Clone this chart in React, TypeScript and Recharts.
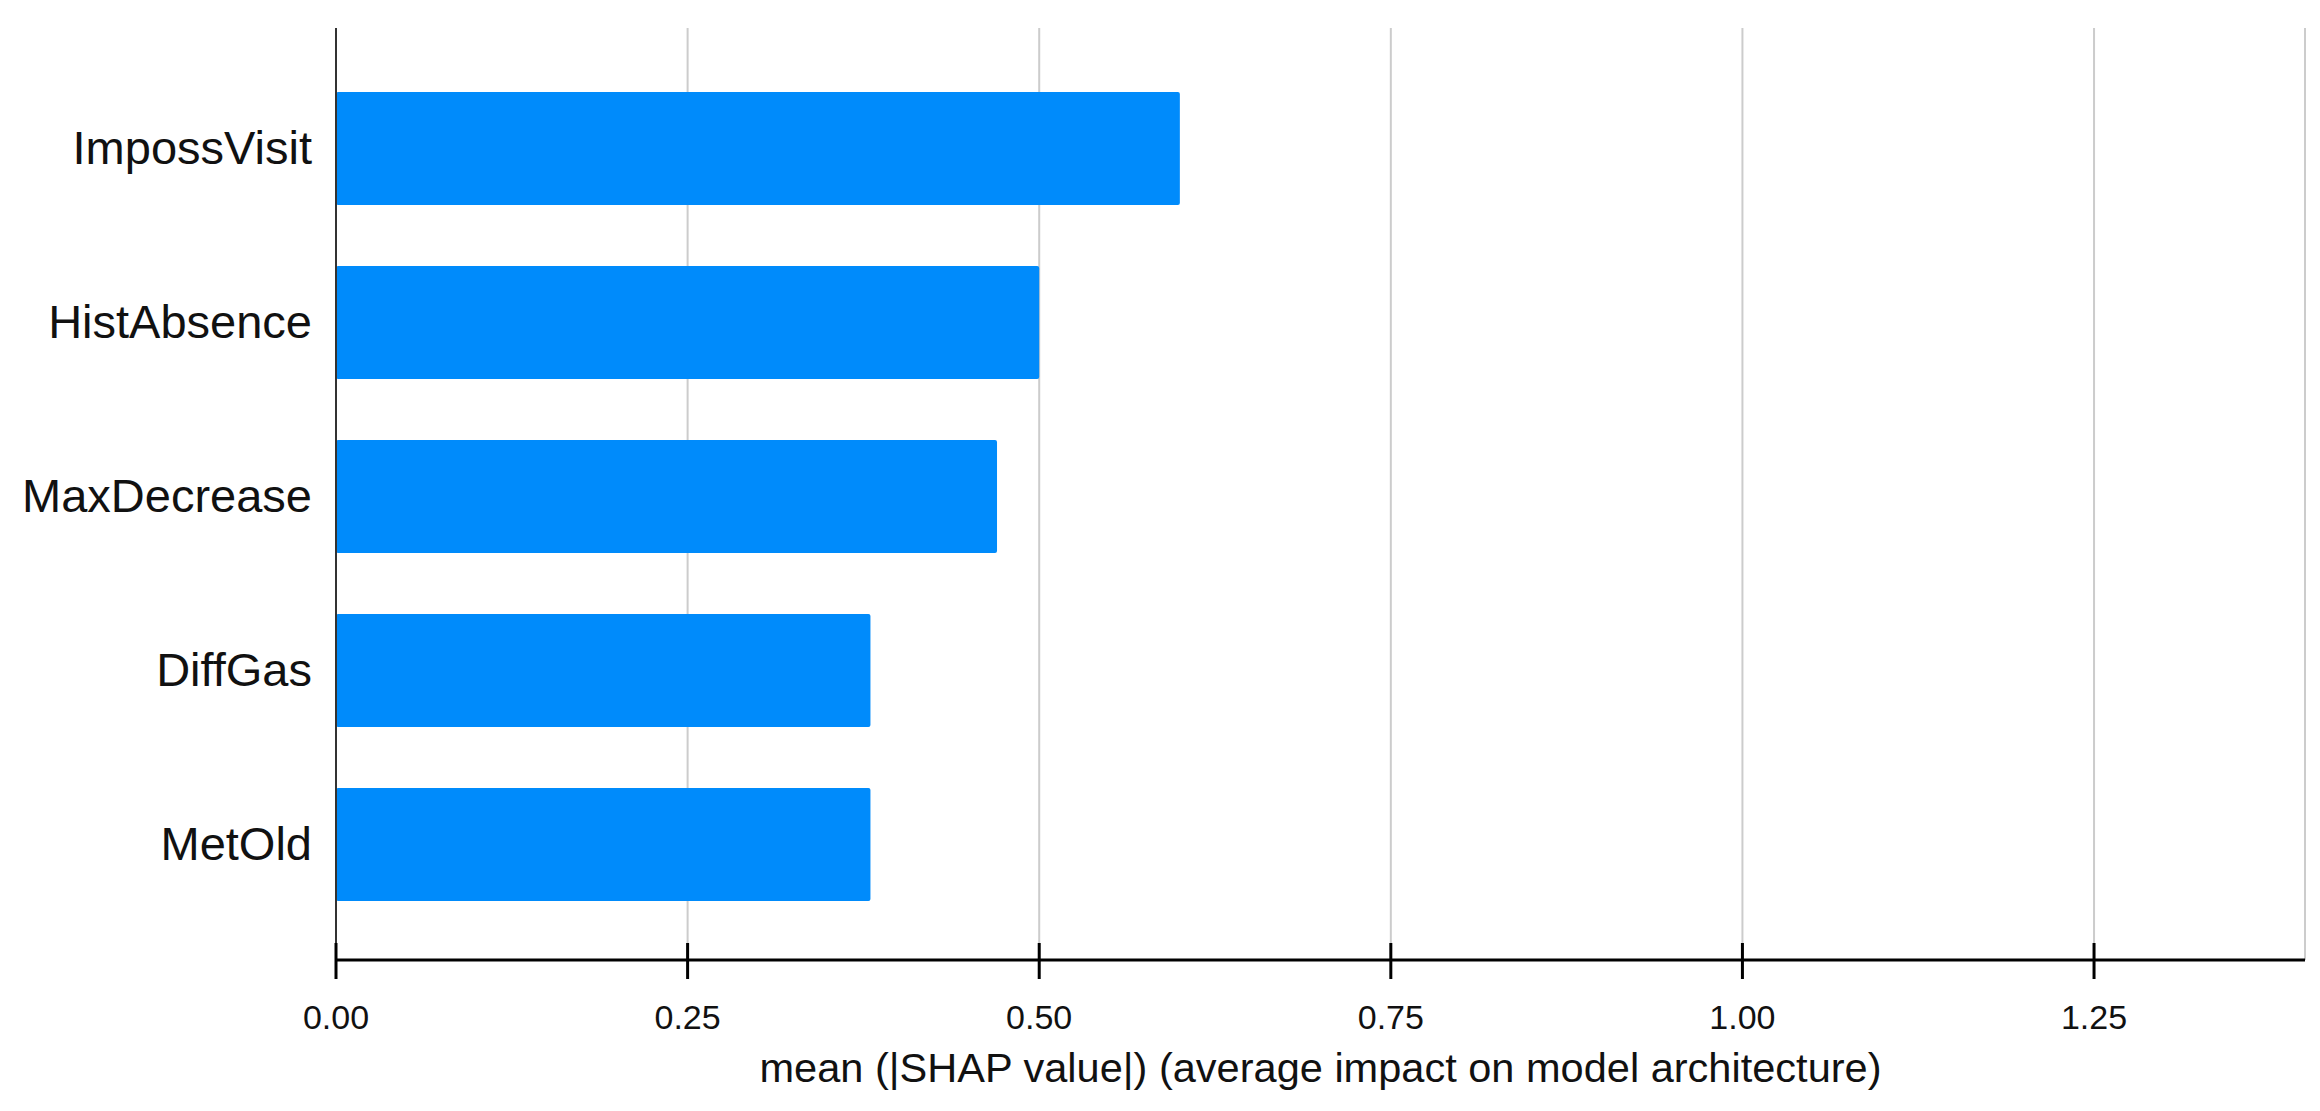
import React from 'react';
import { BarChart, Bar, XAxis, YAxis, CartesianGrid, Label } from 'recharts';

const features = ['ImpossVisit', 'HistAbsence', 'MaxDecrease', 'DiffGas', 'MetOld'];
const meanShap = [0.6, 0.5, 0.47, 0.38, 0.38];
const xTicks = [0, 0.25, 0.5, 0.75, 1.0, 1.25];
const xDomain = [0, 1.4];
const xLabel = 'mean (|SHAP value|) (average impact on model architecture)';

const data = features.map((f, i) => ({ feature: f, value: meanShap[i] }));

const FONT = '"Liberation Sans", Arial, sans-serif';

const XTick = (props: any) => {
  const { x, y, payload } = props;
  return (
    <g>
      <line x1={x} x2={x} y1={y - 17} y2={y + 19} stroke="#000" strokeWidth={3} />
      <text x={x} y={y + 69} textAnchor="middle" fontSize={34} fontFamily={FONT} fill="#111">
        {Number(payload.value).toFixed(2)}
      </text>
    </g>
  );
};

const YTick = (props: any) => {
  const { x, y, payload } = props;
  return (
    <text x={x} y={y + 16} textAnchor="end" fontSize={47} fontFamily={FONT} fill="#111">
      {payload.value}
    </text>
  );
};

const AxisTitle = (props: any) => {
  const vb = props.viewBox || {};
  return (
    <text
      x={vb.x + vb.width / 2 - 561}
      y={vb.y + 122}
      textAnchor="start"
      fontSize={40}
      fontFamily={FONT}
      fill="#111"
      textLength={1122}
      lengthAdjust="spacingAndGlyphs"
    >
      {xLabel}
    </text>
  );
};

export default function App() {
  return (
    <div style={{ position: 'absolute', left: 0, top: 0, width: 2320, height: 1111, background: '#fff' }}>
      <BarChart
        width={2320}
        height={1111}
        data={data}
        layout="vertical"
        margin={{ top: 28, right: 15, bottom: 31, left: 0 }}
      >
        <CartesianGrid horizontal={false} vertical={true} stroke="#cccccc" strokeWidth={2} />
        <XAxis
          type="number"
          domain={xDomain}
          ticks={xTicks}
          allowDataOverflow
          height={120}
          tickSize={0}
          tickMargin={0}
          tickLine={false}
          axisLine={{ stroke: '#000', strokeWidth: 3 }}
          tick={<XTick />}
          interval={0}
        >
          <Label content={<AxisTitle />} />
        </XAxis>
        <YAxis
          type="category"
          dataKey="feature"
          width={336}
          tickSize={0}
          tickMargin={24}
          tickLine={false}
          axisLine={{ stroke: '#333', strokeWidth: 2 }}
          tick={<YTick />}
          padding={{ top: 33, bottom: 29 }}
          interval={0}
        />
        <Bar dataKey="value" fill="#008bfb" barSize={113} radius={2} isAnimationActive={false} />
      </BarChart>
    </div>
  );
}
